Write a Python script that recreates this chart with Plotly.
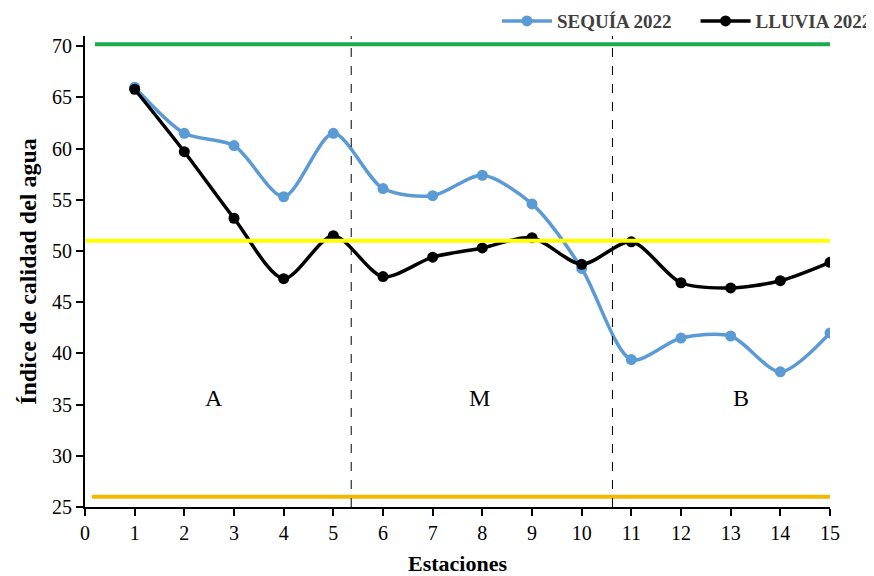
import plotly.graph_objects as go

estaciones = list(range(1, 16))
sequia_2022 = [66.0, 61.5, 60.3, 55.3, 61.5, 56.1, 55.4, 57.4, 54.6, 48.3, 39.4, 41.5, 41.7, 38.2, 42.0]
lluvia_2022 = [65.8, 59.7, 53.2, 47.3, 51.5, 47.5, 49.4, 50.3, 51.3, 48.7, 50.9, 46.9, 46.4, 47.1, 48.9]
ref_levels = [70.2, 51.0, 26.0]
ref_colors = ["#1aab4b", "#ffff00", "#f5b800"]
ref_x0 = [0.2, 0.0, 0.14]
zonas = ["A", "M", "B"]
zona_x = [2.6, 7.95, 13.2]
zona_y = [35.6, 35.6, 35.6]
divisiones = [5.36, 10.62]

font = "Liberation Serif"
fig = go.Figure()

fig.add_trace(go.Scatter(x=estaciones, y=sequia_2022, name="SEQUÍA 2022\u00a0\u00a0\u00a0\u00a0", mode="lines+markers",
                         line=dict(color="#5b9bd5", width=3.5, shape="spline", smoothing=0.8),
                         marker=dict(size=11, color="#5b9bd5")))
fig.add_trace(go.Scatter(x=estaciones, y=lluvia_2022, name="LLUVIA 2022", mode="lines+markers",
                         line=dict(color="black", width=3.5, shape="spline", smoothing=0.8),
                         marker=dict(size=11, color="black")))

for lvl, c, x0 in zip(ref_levels, ref_colors, ref_x0):
    fig.add_trace(go.Scatter(x=[x0, 15.0], y=[lvl, lvl], mode="lines", showlegend=False,
                             line=dict(color=c, width=4), hoverinfo="skip"))

for d in divisiones:
    fig.add_shape(type="line", x0=d, x1=d, y0=25, y1=71, xref="x", yref="y",
                  line=dict(color="black", width=1, dash="dash"))

for t, x, y in zip(zonas, zona_x, zona_y):
    fig.add_annotation(x=x, y=y, text=t, showarrow=False, font=dict(family=font, size=24, color="black"))

fig.update_layout(
    width=874, height=576,
    margin=dict(l=77, r=52, t=28, b=77, autoexpand=False),
    plot_bgcolor="white", paper_bgcolor="white",
    font=dict(family=font, size=20, color="black"),
    showlegend=True,
    legend=dict(orientation="h", x=0.553, y=1.072, xanchor="left", yanchor="top",
                font=dict(family=font, size=19, color="#404040", weight="bold"),
                itemwidth=50, bgcolor="rgba(0,0,0,0)"),
    xaxis=dict(range=[0, 15], tickmode="linear", tick0=0, dtick=1, showgrid=False, zeroline=False,
               showline=True, linecolor="black", linewidth=2, ticks="outside", ticklen=7,
               tickwidth=2, tickcolor="black", tickfont=dict(family=font, size=20),
               title=dict(text="<b>Estaciones</b>", font=dict(family=font, size=22), standoff=13)),
    yaxis=dict(range=[25, 71], tickmode="linear", tick0=25, dtick=5, showgrid=False, zeroline=False,
               showline=True, linecolor="black", linewidth=2, ticks="outside", ticklen=7,
               tickwidth=2, tickcolor="black", tickfont=dict(family=font, size=20),
               title=dict(text="<b>Índice de calidad del agua</b>", font=dict(family=font, size=24), standoff=9)),
)

fig.write_html("out.html")
